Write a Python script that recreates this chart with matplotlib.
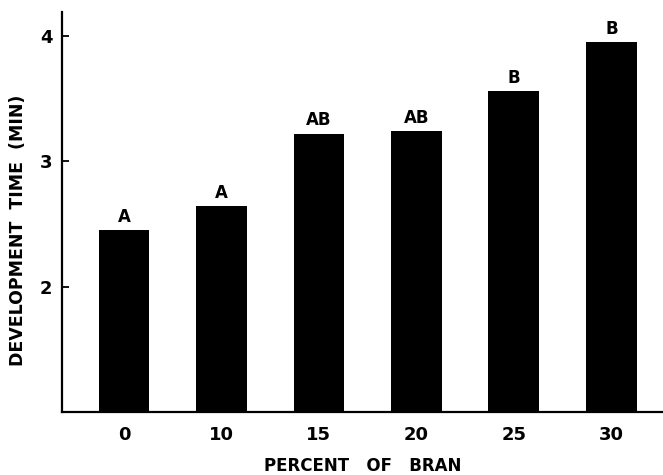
import numpy as np
import matplotlib
matplotlib.use('Agg')
import matplotlib.pyplot as plt

# development time vs. bran level, letters = significance groups
bran_pct = ['0', '10', '15', '20', '25', '30']
dev_time = [2.45, 2.64, 3.22, 3.24, 3.56, 3.95]
groups = ['A', 'A', 'AB', 'AB', 'B', 'B']

plt.rcParams['font.family'] = 'DejaVu Sans'
plt.rcParams['font.weight'] = 'bold'

fig = plt.figure(figsize=(6.63, 4.75), dpi=100)
ax = fig.add_axes([0.0935, 0.1326, 0.9065, 0.842])

xs = np.arange(len(bran_pct))
ax.bar(xs, dev_time, width=0.52, color='black', bottom=0)

for x, v, g in zip(xs, dev_time, groups):
    ax.text(x, v + 0.035, g, ha='center', va='bottom', fontsize=12, fontweight='bold')

ax.set_xlim(-0.635, 5.53)
ax.set_ylim(1.0, 4.19)
ax.set_yticks([2, 3, 4])
ax.set_yticklabels(['2', '3', '4'])
ax.set_xticks(xs)
ax.set_xticklabels(bran_pct)

for s in ['top', 'right']:
    ax.spines[s].set_visible(False)
for s in ['left', 'bottom']:
    ax.spines[s].set_linewidth(1.6)

ax.tick_params(axis='y', direction='in', length=5, width=1.3, labelsize=13, pad=7)
ax.tick_params(axis='x', length=0, labelsize=13, pad=10)
for lab in ax.get_xticklabels() + ax.get_yticklabels():
    lab.set_fontweight('bold')

ax.set_xlabel('PERCENT   OF   BRAN', fontsize=12, fontweight='bold')
ax.xaxis.set_label_coords(0.5, -0.112)
ax.set_ylabel('DEVELOPMENT  TIME  (MIN)', fontsize=12.5, fontweight='bold')
ax.yaxis.set_label_coords(-0.058, 0.455)

plt.savefig('out.png', dpi=100)
